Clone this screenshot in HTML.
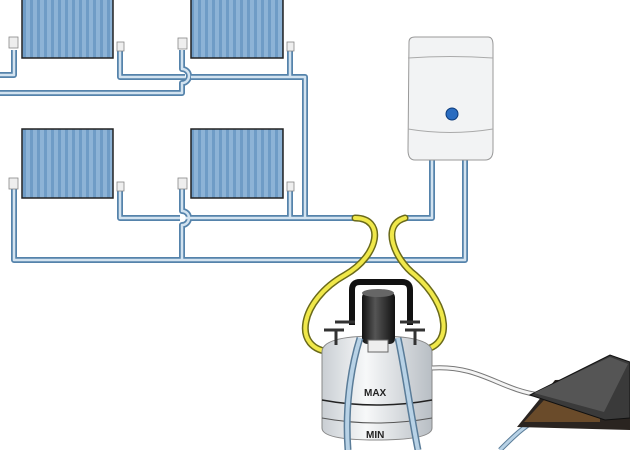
<!DOCTYPE html>
<html><head><meta charset="utf-8"><style>
html,body{margin:0;padding:0;background:#fff;width:630px;height:450px;overflow:hidden}
</style></head><body>
<svg width="630" height="450" viewBox="0 0 630 450" xmlns="http://www.w3.org/2000/svg">
<defs>
<pattern id="fins" width="7" height="10" patternUnits="userSpaceOnUse">
<rect width="7" height="10" fill="#8db3d6"/>
<rect x="2" width="3" height="10" fill="#6f9cc6"/>
</pattern>
<linearGradient id="cyl" x1="0" x2="1">
<stop offset="0" stop-color="#c9ced3"/><stop offset="0.4" stop-color="#f7f8f9"/><stop offset="1" stop-color="#b8bec4"/>
</linearGradient>
<linearGradient id="mot" x1="0" x2="1">
<stop offset="0" stop-color="#111"/><stop offset="0.4" stop-color="#555"/><stop offset="1" stop-color="#111"/>
</linearGradient>
</defs>
<!-- pipes -->
<g fill="none" stroke-linejoin="round">
<g id="pipes" stroke="#5583ab" stroke-width="6">
<path d="M0 75 H14 V50"/>
<path d="M120 50 V77 H185 M191 77 H305 V218 H355"/>
<path d="M290 50 V77"/>
<path d="M0 93 H182 V83 A7 7 0 0 0 182 69 V50"/>
<path d="M14 188 V260 H465 V160"/>
<path d="M120 188 V218 H180 M186 218 H305"/>
<path d="M182 188 V211 A7 7 0 0 1 182 225 V260"/>
<path d="M290 188 V218"/>
<path d="M432 160 V218 H405"/>
</g>
<g stroke="#d3e3f0" stroke-width="2.5">
<path d="M0 75 H14 V50"/>
<path d="M120 50 V77 H185 M191 77 H305 V218 H355"/>
<path d="M290 50 V77"/>
<path d="M0 93 H182 V83 A7 7 0 0 0 182 69 V50"/>
<path d="M14 188 V260 H465 V160"/>
<path d="M120 188 V218 H180 M186 218 H305"/>
<path d="M182 188 V211 A7 7 0 0 1 182 225 V260"/>
<path d="M290 188 V218"/>
<path d="M432 160 V218 H405"/>
</g>
</g>
<!-- radiators -->
<g stroke="#222" stroke-width="1.5">
<rect x="22" y="-2" width="91" height="60" fill="url(#fins)"/>
<rect x="191" y="-2" width="92" height="60" fill="url(#fins)"/>
<rect x="22" y="129" width="91" height="69" fill="url(#fins)"/>
<rect x="191" y="129" width="92" height="69" fill="url(#fins)"/>
</g>
<g fill="#eee" stroke="#888" stroke-width="0.8">
<rect x="9" y="37" width="9" height="11"/><rect x="117" y="42" width="7" height="9"/>
<rect x="178" y="38" width="9" height="11"/><rect x="287" y="42" width="7" height="9"/>
<rect x="9" y="178" width="9" height="11"/><rect x="117" y="182" width="7" height="9"/>
<rect x="178" y="178" width="9" height="11"/><rect x="287" y="182" width="7" height="9"/>
</g>
<!-- boiler -->
<path d="M409 42 Q409 37 415 37 L488 37 Q493 37 493 45 L493 150 Q493 160 485 160 L415 160 Q408 160 408 150 Z" fill="#f2f3f4" stroke="#999" stroke-width="1"/>
<path d="M408 58 Q450 55 493 58" stroke="#aaa" fill="none"/>
<path d="M408 129 Q450 136 493 129" stroke="#aaa" fill="none"/>
<circle cx="452" cy="114" r="6" fill="#2a6cc0" stroke="#0c3a7a"/>
<!-- yellow hoses -->
<g fill="none" stroke-linecap="round">
<path d="M355 218 C385 218 380 255 345 275 C300 300 290 350 332 352" stroke="#6a6a1a" stroke-width="7"/>
<path d="M355 218 C385 218 380 255 345 275 C300 300 290 350 332 352" stroke="#f0e84a" stroke-width="4"/>
<path d="M405 218 C380 225 395 260 415 275 C450 305 455 350 418 350" stroke="#6a6a1a" stroke-width="7"/>
<path d="M405 218 C380 225 395 260 415 275 C450 305 455 350 418 350" stroke="#f0e84a" stroke-width="4"/>
</g>
<!-- pump -->
<path d="M322 352 Q322 336 376 336 Q432 336 432 352 L432 428 Q432 440 376 440 Q322 440 322 428 Z" fill="url(#cyl)" stroke="#888"/>
<path d="M322 400 Q376 410 432 400" stroke="#222" stroke-width="1.5" fill="none"/>
<path d="M322 418 Q376 428 432 418" stroke="#555" stroke-width="1" fill="none"/>
<text x="364" y="396" font-family="Liberation Sans,sans-serif" font-size="10" font-weight="bold" fill="#222">MAX</text>
<text x="366" y="438" font-family="Liberation Sans,sans-serif" font-size="10" font-weight="bold" fill="#222">MIN</text>
<path d="M352 325 V290 Q352 282 360 282 H402 Q410 282 410 290 V325" fill="none" stroke="#111" stroke-width="6"/>
<rect x="362" y="292" width="33" height="52" rx="5" fill="url(#mot)"/>
<ellipse cx="378" cy="293" rx="16" ry="4" fill="#666"/>
<rect x="368" y="340" width="20" height="12" fill="#eee" stroke="#666"/>
<g stroke="#333" stroke-width="3"><path d="M324 330 H344 M336 330 V345 M405 330 H425 M415 330 V345 M335 322 H355 M400 322 H420"/></g>
<!-- blue hoses in pump -->
<g fill="none">
<path d="M360 338 C350 370 345 410 348 450" stroke="#5a7c98" stroke-width="7"/>
<path d="M360 338 C350 370 345 410 348 450" stroke="#b8d2e6" stroke-width="4"/>
<path d="M398 338 C405 370 410 410 418 450" stroke="#5a7c98" stroke-width="7"/>
<path d="M398 338 C405 370 410 410 418 450" stroke="#b8d2e6" stroke-width="4"/>
<path d="M432 368 C480 365 500 390 540 395" stroke="#777" stroke-width="5"/>
<path d="M432 368 C480 365 500 390 540 395" stroke="#f5f5f5" stroke-width="3"/>
<path d="M500 450 C520 430 540 410 560 420" stroke="#5a7c98" stroke-width="5"/>
<path d="M500 450 C520 430 540 410 560 420" stroke="#b8d2e6" stroke-width="3"/>
</g>
<!-- pedal -->
<polygon points="517,427 555,380 630,378 630,430" fill="#2a2420"/>
<polygon points="524,422 555,388 600,390 600,422" fill="#6a4b2a"/>
<polygon points="530,395 610,355 630,362 630,418 605,420" fill="#3a3a3a" stroke="#111"/>
<polygon points="534,393 610,357 628,364 604,412" fill="#555"/>
</svg>
</body></html>
